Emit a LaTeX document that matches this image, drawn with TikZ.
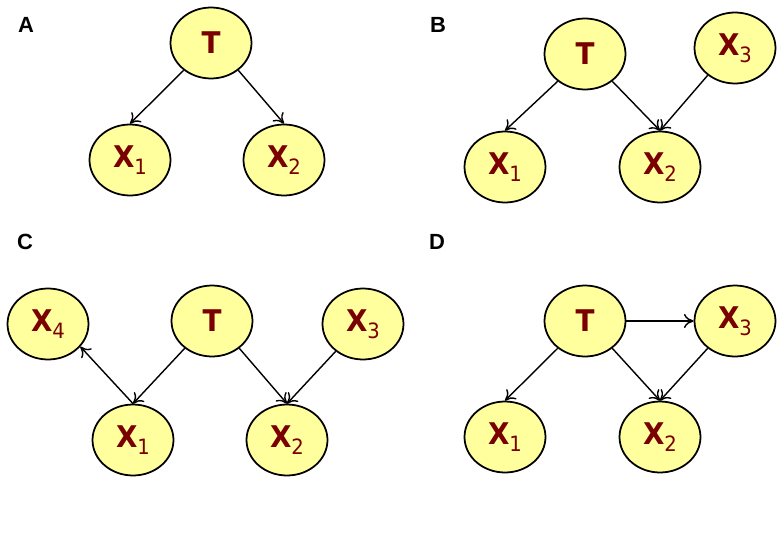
\documentclass[tikz,border=0pt]{standalone}
\usepackage{fontspec}
\setmainfont{DejaVu Sans}
\newfontfamily\varfont[FakeStretch=0.93]{DejaVu Sans}
\newfontfamily\panelfont{Liberation Sans}
\usepackage{xcolor}
\usetikzlibrary{shapes.geometric,arrows.meta}
\definecolor{varfill}{RGB}{255,255,158}
\definecolor{vartext}{RGB}{122,0,0}
\newcommand{\idx}[1]{\raisebox{-0.45ex}{\fontsize{12}{12}\selectfont\mdseries #1}}

\begin{document}
\begin{tikzpicture}[x=0.02cm,y=-0.02cm,
        var/.style={ellipse,draw,line width=1pt,fill=varfill,minimum width=1.62cm,minimum height=1.42cm,inner sep=0pt,text=vartext,font=\varfont\bfseries\fontsize{17}{17}\selectfont},
        panel/.style={font=\panelfont\bfseries\fontsize{12.5}{12.5}\selectfont},
        edge/.style={-{To[length=5.5pt,width=8pt]},line width=0.8pt}]
                \useasboundingbox (0,0) rectangle (784,537);

                % panel letters
                \foreach \lab/\px/\py in {A/26/25,B/438/25,C/25/242,D/437/242}{
                        \node[panel] (lab\lab) at (\px,\py) {\lab};
                }

                % A
                \node[var] (tA) at (211,43) {T};
                \node[var] (xA1) at (130,160) {X\idx{1}};
                \node[var] (xA2) at (284,160) {X\idx{2}};
                \draw[edge] (tA.-135) -- (xA1.north);
                \draw[edge] (tA.-45) -- (xA2.north);

                % B
                \node[var] (tB) at (585,54) {T};
                \node[var] (xB3) at (735,48) {X\idx{3}};
                \node[var] (xB1) at (505,167) {X\idx{1}};
                \node[var] (xB2) at (660,167) {X\idx{2}};
                \draw[edge] (tB.-135) -- (xB1.north);
                \draw[edge] (tB.-45) -- (xB2.north);
                \draw[edge] (xB3.-135) -- (xB2.north);

                % C
                \node[var] (xC4) at (48,324) {X\idx{4}};
                \node[var] (tC) at (212,321) {T};
                \node[var] (xC3) at (363,324) {X\idx{3}};
                \node[var] (xC1) at (133,440) {X\idx{1}};
                \node[var] (xC2) at (287,440) {X\idx{2}};
                \draw[edge] (tC.-135) -- (xC1.north);
                \draw[edge] (xC1.north) -- (xC4.-35);
                \draw[edge] (tC.-45) -- (xC2.north);
                \draw[edge] (xC3.-135) -- (xC2.north);

                % D
                \node[var] (tD) at (585,321) {T};
                \node[var] (xD3) at (735,321) {X\idx{3}};
                \node[var] (xD1) at (505,437) {X\idx{1}};
                \node[var] (xD2) at (660,437) {X\idx{2}};
                \draw[edge] (tD.east) -- (xD3.west);
                \draw[edge] (tD.-135) -- (xD1.north);
                \draw[edge] (tD.-45) -- (xD2.north);
                \draw[edge] (xD3.-135) -- (xD2.north);
\end{tikzpicture}
\end{document}
